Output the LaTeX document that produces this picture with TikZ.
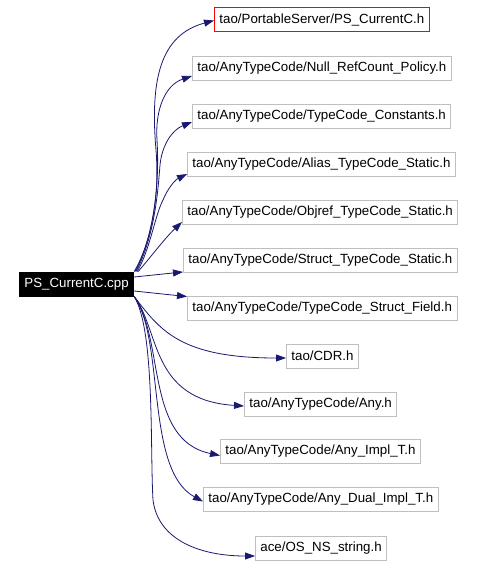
\documentclass[tikz,border=0pt]{standalone}
\usepackage{fontspec}
\setmainfont{Liberation Sans}
\usetikzlibrary{arrows.meta}
\definecolor{edgeblue}{RGB}{25,25,112}
\definecolor{boxgray}{RGB}{191,191,191}
\begin{document}
\begin{tikzpicture}[x=1pt,y=-1pt,>={Triangle[length=10pt,width=7pt]}]
        \tikzset{
            hfile/.style={draw=boxgray, line width=0.9pt, anchor=west, minimum height=24pt, inner xsep=5pt, font=\fontsize{13.3}{15}\selectfont},
            srcfile/.style={hfile, draw=black, fill=black, text=white},
            dep/.style={->, draw=edgeblue, line width=0.8pt}
        }
        \useasboundingbox (0,0) rectangle (478,566);

        \node[srcfile] (cpp) at (19,284) {PS\_CurrentC.cpp};

        \node[hfile, draw=red] (pscurrent) at (214,19.5) {tao/PortableServer/PS\_CurrentC.h};
        \node[hfile] (nullref) at (192,68) {tao/AnyTypeCode/Null\_RefCount\_Policy.h};
        \node[hfile] (tcconst) at (192,116) {tao/AnyTypeCode/TypeCode\_Constants.h};
        \node[hfile] (alias) at (187,164) {tao/AnyTypeCode/Alias\_TypeCode\_Static.h};
        \node[hfile] (objref) at (182,212) {tao/AnyTypeCode/Objref\_TypeCode\_Static.h};
        \node[hfile] (structstatic) at (183,260.5) {tao/AnyTypeCode/Struct\_TypeCode\_Static.h};
        \node[hfile] (structfield) at (187,308) {tao/AnyTypeCode/TypeCode\_Struct\_Field.h};
        \node[hfile] (cdr) at (286,356) {tao/CDR.h};
        \node[hfile] (any) at (244,404) {tao/AnyTypeCode/Any.h};
        \node[hfile] (anyimpl) at (220,451.5) {tao/AnyTypeCode/Any\_Impl\_T.h};
        \node[hfile] (anydual) at (203,499.5) {tao/AnyTypeCode/Any\_Dual\_Impl\_T.h};
        \node[hfile] (osstring) at (255,548) {ace/OS\_NS\_string.h};

        % upper fan
        \draw[dep] (cpp.north east) .. controls (150,245) and (160,200) .. (156,150)
            .. controls (150,80) and (160,35) .. ([yshift=-1pt]pscurrent.west);
        \draw[dep] ([xshift=1pt]cpp.north east) .. controls (152,240) and (160,190) .. (157,140)
            .. controls (155,110) and (165,85) .. ([yshift=-8pt]nullref.west);
        \draw[dep] ([xshift=2pt]cpp.north east) .. controls (155,235) and (158,190) .. (160,165)
            .. controls (162,145) and (172,130) .. ([yshift=-6pt]tcconst.west);
        \draw[dep] ([xshift=3pt]cpp.north east) .. controls (150,250) and (155,215) .. (163,200)
            .. controls (168,188) and (175,180) .. ([yshift=-10pt]alias.west);
        \draw[dep] ([xshift=4pt]cpp.north east) .. controls (150,258) and (165,238) .. ([yshift=-10pt]objref.west);
        \draw[dep] ([yshift=7pt]cpp.east) -- ([yshift=1pt]structstatic.south west);
        \draw[dep] ([yshift=-7pt]cpp.east) -- ([yshift=-1pt]structfield.north west);

        % lower fan
        \draw[dep] (cpp.south east) .. controls (160,330) and (180,358) .. ([yshift=-2pt]cdr.west);
        \draw[dep] (cpp.south east) .. controls (160,330) and (150,400) .. ([yshift=-2pt]any.west);
        \draw[dep] (cpp.south east) .. controls (165,340) and (145,440) .. ([yshift=-4pt]anyimpl.west);
        \draw[dep] (cpp.south east) .. controls (165,340) and (145,470) .. ([yshift=-2pt]anydual.west);
        \draw[dep] (cpp.south east) .. controls (155,330) and (150,450) .. (153,500)
            .. controls (158,540) and (200,556) .. ([yshift=-8pt]osstring.west);
    \end{tikzpicture}
\end{document}
